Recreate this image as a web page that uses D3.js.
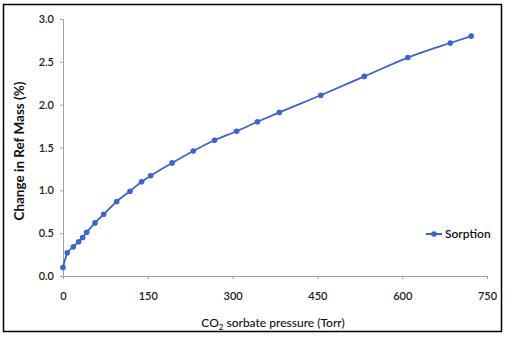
<!DOCTYPE html>
<html><head><meta charset="utf-8">
<script src="https://cdn.jsdelivr.net/npm/d3@7"></script>
<style>body{margin:0;background:#fff}svg{display:block}text{font-family:Lato,"Open Sans",sans-serif}</style>
</head><body>
<svg id="c" width="506" height="338"></svg>
<script>
const pressure = [0, 7.6, 18.3, 27.7, 34.8, 41.9, 56.6, 72, 95, 118.5, 139, 155, 193, 230.5, 268, 307, 344, 382.7, 456, 533, 610, 685, 722];
const massChange = [0.10, 0.27, 0.34, 0.40, 0.45, 0.51, 0.62, 0.72, 0.87, 0.99, 1.10, 1.17, 1.32, 1.46, 1.585, 1.69, 1.80, 1.91, 2.11, 2.33, 2.55, 2.72, 2.80];
const xTicks = [0, 150, 300, 450, 600, 750];
const yTicks = [0, 0.5, 1.0, 1.5, 2.0, 2.5, 3.0];
const seriesName = "Sorption";

const svg = d3.select("#c");
const col = "#3d63cf";
svg.append("rect").attr("x",3.5).attr("y",4.5).attr("width",498).attr("height",327)
  .attr("fill","none").attr("stroke","#000").attr("stroke-width",1.5);

const x = d3.scaleLinear().domain([0,750]).range([63,487]);
const y = d3.scaleLinear().domain([0,3]).range([276,19]);

const gx = svg.append("g").attr("transform","translate(0,276)")
  .call(d3.axisBottom(x).tickValues(xTicks).tickSize(3).tickPadding(13).tickFormat(d3.format("d")));
const gy = svg.append("g").attr("transform","translate(63,0)")
  .call(d3.axisLeft(y).tickValues(yTicks).tickSize(3).tickPadding(6).tickFormat(d3.format(".1f")));
[gx,gy].forEach(g=>{
  g.select(".domain").attr("stroke","#a0a0a0");
  g.selectAll(".tick line").attr("stroke","#a0a0a0");
  g.selectAll(".tick text").attr("fill","#222").attr("font-size",11).attr("font-family","Lato,sans-serif").attr("font-weight",600);
});

const pts = pressure.map((p,i)=>[p,massChange[i]]);
svg.append("path").datum(pts)
  .attr("d", d3.line().x(d=>x(d[0])).y(d=>y(d[1])).curve(d3.curveMonotoneX))
  .attr("fill","none").attr("stroke",col).attr("stroke-width",1.8);
svg.append("g").selectAll("circle").data(pts).join("circle")
  .attr("cx",d=>x(d[0])).attr("cy",d=>y(d[1])).attr("r",2.8).attr("fill",col);

// legend
svg.append("line").attr("x1",426).attr("x2",442).attr("y1",234).attr("y2",234).attr("stroke",col).attr("stroke-width",2);
svg.append("circle").attr("cx",434).attr("cy",234).attr("r",2.8).attr("fill",col);
svg.append("text").attr("x",445).attr("y",238).attr("font-size",12).attr("font-weight",600).attr("fill","#111").text(seriesName);

// axis titles
const xt = svg.append("text").attr("x",273).attr("y",327).attr("text-anchor","middle")
  .attr("font-size",12).attr("font-weight",500).attr("fill","#111");
xt.append("tspan").text("CO");
xt.append("tspan").attr("font-size",8).attr("dy",3).text("2");
xt.append("tspan").attr("dy",-3).text(" sorbate pressure (Torr)");

svg.append("text").attr("transform","translate(24,151) rotate(-90)").attr("text-anchor","middle")
  .attr("font-size",13.5).attr("font-weight",700).attr("fill","#111").text("Change in Ref Mass (%)");
</script>
</body></html>
